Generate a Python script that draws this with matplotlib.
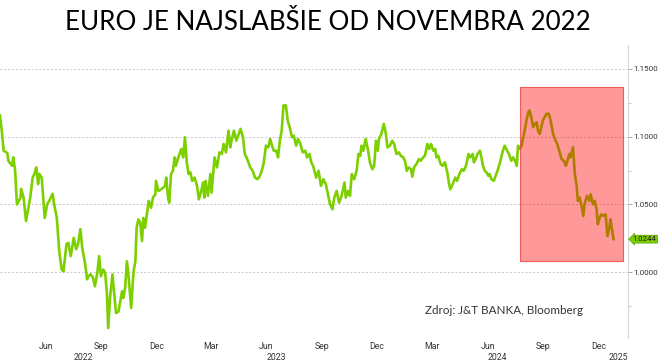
import matplotlib
matplotlib.use("Agg")
import matplotlib.pyplot as plt
import matplotlib.dates as mdates
import matplotlib.transforms as mtransforms
from matplotlib.patches import Rectangle
import pandas as pd

# EUR/USD
dates = [
    "2022-03-31", "2022-04-03", "2022-04-06", "2022-04-12", "2022-04-14", "2022-04-20", "2022-04-22", "2022-04-25",
    "2022-04-28", "2022-05-04", "2022-05-05", "2022-05-09", "2022-05-13", "2022-05-17", "2022-05-20", "2022-05-24",
    "2022-05-27", "2022-05-30", "2022-06-02", "2022-06-04", "2022-06-08", "2022-06-13", "2022-06-17", "2022-06-22",
    "2022-06-26", "2022-06-29", "2022-07-03", "2022-07-07", "2022-07-11", "2022-07-14", "2022-07-19", "2022-07-22",
    "2022-07-26", "2022-07-31", "2022-08-04", "2022-08-07", "2022-08-11", "2022-08-14", "2022-08-19", "2022-08-22",
    "2022-08-24", "2022-08-28", "2022-09-01", "2022-09-04", "2022-09-08", "2022-09-11", "2022-09-14", "2022-09-18",
    "2022-09-21", "2022-09-24", "2022-09-26", "2022-09-29", "2022-10-03", "2022-10-06", "2022-10-09", "2022-10-13",
    "2022-10-16", "2022-10-19", "2022-10-21", "2022-10-24", "2022-10-27", "2022-10-30", "2022-11-03", "2022-11-07",
    "2022-11-10", "2022-11-12", "2022-11-15", "2022-11-18", "2022-11-21", "2022-11-23", "2022-11-26", "2022-11-29",
    "2022-12-02", "2022-12-06", "2022-12-09", "2022-12-13", "2022-12-14", "2022-12-18", "2022-12-23", "2022-12-26",
    "2022-12-29", "2022-12-31", "2023-01-03", "2023-01-05", "2023-01-08", "2023-01-11", "2023-01-14", "2023-01-16",
    "2023-01-20", "2023-01-25", "2023-01-28", "2023-01-31", "2023-02-03", "2023-02-06", "2023-02-09", "2023-02-12",
    "2023-02-16", "2023-02-20", "2023-02-23", "2023-02-27", "2023-03-02", "2023-03-04", "2023-03-06", "2023-03-10",
    "2023-03-14", "2023-03-16", "2023-03-21", "2023-03-25", "2023-03-29", "2023-04-02", "2023-04-05", "2023-04-09",
    "2023-04-13", "2023-04-16", "2023-04-18", "2023-04-22", "2023-04-26", "2023-04-29", "2023-05-03", "2023-05-07",
    "2023-05-10", "2023-05-14", "2023-05-19", "2023-05-23", "2023-05-27", "2023-05-31", "2023-06-04", "2023-06-07",
    "2023-06-10", "2023-06-14", "2023-06-18", "2023-06-21", "2023-06-24", "2023-06-27", "2023-07-01", "2023-07-04",
    "2023-07-07", "2023-07-10", "2023-07-13", "2023-07-17", "2023-07-20", "2023-07-24", "2023-07-27", "2023-07-30",
    "2023-08-03", "2023-08-06", "2023-08-09", "2023-08-14", "2023-08-18", "2023-08-21", "2023-08-25", "2023-08-28",
    "2023-08-31", "2023-09-05", "2023-09-09", "2023-09-13", "2023-09-17", "2023-09-21", "2023-09-25", "2023-09-28",
    "2023-10-02", "2023-10-05", "2023-10-09", "2023-10-13", "2023-10-17", "2023-10-22", "2023-10-24", "2023-10-28",
    "2023-10-31", "2023-11-03", "2023-11-07", "2023-11-11", "2023-11-14", "2023-11-17", "2023-11-19", "2023-11-22",
    "2023-11-26", "2023-11-30", "2023-12-03", "2023-12-07", "2023-12-10", "2023-12-13", "2023-12-16", "2023-12-18",
    "2023-12-22", "2023-12-26", "2023-12-29", "2024-01-01", "2024-01-05", "2024-01-09", "2024-01-12", "2024-01-16",
    "2024-01-20", "2024-01-23", "2024-01-27", "2024-01-30", "2024-02-02", "2024-02-05", "2024-02-09", "2024-02-11",
    "2024-02-14", "2024-02-18", "2024-02-22", "2024-02-25", "2024-02-29", "2024-03-03", "2024-03-07", "2024-03-10",
    "2024-03-13", "2024-03-17", "2024-03-20", "2024-03-22", "2024-03-25", "2024-03-29", "2024-04-01", "2024-04-05",
    "2024-04-09", "2024-04-12", "2024-04-14", "2024-04-18", "2024-04-22", "2024-04-25", "2024-04-29", "2024-05-03",
    "2024-05-06", "2024-05-10", "2024-05-14", "2024-05-17", "2024-05-21", "2024-05-23", "2024-05-26", "2024-05-29",
    "2024-06-02", "2024-06-05", "2024-06-07", "2024-06-10", "2024-06-13", "2024-06-16", "2024-06-18", "2024-06-21",
    "2024-06-25", "2024-06-28", "2024-07-02", "2024-07-06", "2024-07-10", "2024-07-13", "2024-07-17", "2024-07-20",
    "2024-07-24", "2024-07-27", "2024-07-30", "2024-08-02", "2024-08-04", "2024-08-07", "2024-08-10", "2024-08-12",
    "2024-08-15", "2024-08-18", "2024-08-21", "2024-08-23", "2024-08-26", "2024-08-29", "2024-09-01", "2024-09-04",
    "2024-09-06", "2024-09-09", "2024-09-12", "2024-09-14", "2024-09-17", "2024-09-20", "2024-09-24", "2024-09-27",
    "2024-10-01", "2024-10-05", "2024-10-08", "2024-10-12", "2024-10-15", "2024-10-19", "2024-10-22", "2024-10-24",
    "2024-10-28", "2024-10-30", "2024-11-03", "2024-11-06", "2024-11-09", "2024-11-11", "2024-11-14", "2024-11-17",
    "2024-11-20", "2024-11-22", "2024-11-26", "2024-11-30", "2024-12-02", "2024-12-06", "2024-12-09", "2024-12-12",
    "2024-12-14", "2024-12-17", "2024-12-20", "2024-12-24", "2024-12-27", "2024-12-30", "2025-01-02", "2025-01-04",
    "2025-01-07", "2025-01-09",
]
eurusd = [
    1.1156, 1.1040, 1.0896, 1.0880, 1.0820, 1.0785, 1.0847, 1.0750,
    1.0500, 1.0550, 1.0615, 1.0550, 1.0378, 1.0476, 1.0550, 1.0698,
    1.0726, 1.0773, 1.0650, 1.0726, 1.0698, 1.0400, 1.0500, 1.0540,
    1.0578, 1.0490, 1.0400, 1.0156, 1.0020, 1.0007, 1.0207, 1.0217,
    1.0119, 1.0254, 1.0170, 1.0207, 1.0318, 1.0180, 1.0059, 0.9948,
    0.9970, 0.9985, 0.9958, 0.9896, 0.9995, 1.0119, 0.9970, 1.0020,
    0.9995, 0.9837, 0.9588, 0.9810, 0.9985, 0.9837, 0.9699, 0.9710,
    0.9785, 0.9860, 0.9810, 0.9884, 1.0081, 0.9958, 0.9736, 1.0007,
    1.0081, 1.0328, 1.0390, 1.0365, 1.0230, 1.0400, 1.0328, 1.0427,
    1.0526, 1.0476, 1.0550, 1.0575, 1.0674, 1.0600, 1.0612, 1.0624,
    1.0637, 1.0698, 1.0550, 1.0513, 1.0724, 1.0748, 1.0847, 1.0785,
    1.0847, 1.0909, 1.0847, 1.0995, 1.0810, 1.0724, 1.0736, 1.0674,
    1.0698, 1.0637, 1.0538, 1.0600, 1.0662, 1.0550, 1.0674, 1.0563,
    1.0724, 1.0587, 1.0847, 1.0773, 1.0884, 1.0872, 1.0946, 1.0884,
    1.1044, 1.0921, 1.0970, 1.1044, 1.0970, 1.1007, 1.1057, 1.0995,
    1.0872, 1.0835, 1.0773, 1.0748, 1.0698, 1.0686, 1.0711, 1.0748,
    1.0798, 1.0933, 1.0921, 1.0983, 1.0933, 1.0896, 1.0896, 1.0847,
    1.0970, 1.1044, 1.1230, 1.1230, 1.1119, 1.1057, 1.0995, 1.1007,
    1.0933, 1.0983, 1.0958, 1.0884, 1.0896, 1.0847, 1.0872, 1.0810,
    1.0785, 1.0698, 1.0748, 1.0637, 1.0686, 1.0650, 1.0563, 1.0501,
    1.0464, 1.0550, 1.0600, 1.0513, 1.0563, 1.0662, 1.0550, 1.0600,
    1.0563, 1.0724, 1.0686, 1.0748, 1.0872, 1.0859, 1.0933, 1.0896,
    1.0983, 1.0896, 1.0810, 1.0760, 1.0785, 1.0970, 1.0896, 1.0983,
    1.1020, 1.1094, 1.1032, 1.0921, 1.0933, 1.0970, 1.0946, 1.0872,
    1.0884, 1.0859, 1.0847, 1.0822, 1.0748, 1.0773, 1.0760, 1.0704,
    1.0773, 1.0798, 1.0835, 1.0822, 1.0847, 1.0859, 1.0946, 1.0909,
    1.0946, 1.0896, 1.0909, 1.0847, 1.0859, 1.0798, 1.0785, 1.0810,
    1.0736, 1.0650, 1.0612, 1.0650, 1.0698, 1.0674, 1.0724, 1.0760,
    1.0748, 1.0785, 1.0872, 1.0847, 1.0872, 1.0810, 1.0835, 1.0872,
    1.0896, 1.0835, 1.0785, 1.0748, 1.0736, 1.0711, 1.0724, 1.0686,
    1.0674, 1.0711, 1.0760, 1.0822, 1.0896, 1.0933, 1.0896, 1.0872,
    1.0822, 1.0847, 1.0822, 1.0785, 1.0933, 1.0909, 1.0933, 1.0983,
    1.1044, 1.1119, 1.1180, 1.1193, 1.1143, 1.1069, 1.1094, 1.1106,
    1.1044, 1.1020, 1.1081, 1.1119, 1.1143, 1.1168, 1.1168, 1.1119,
    1.1020, 1.0970, 1.0946, 1.0884, 1.0835, 1.0822, 1.0785, 1.0810,
    1.0872, 1.0847, 1.0921, 1.0724, 1.0637, 1.0526, 1.0550, 1.0489,
    1.0415, 1.0501, 1.0563, 1.0526, 1.0575, 1.0501, 1.0526, 1.0464,
    1.0353, 1.0400, 1.0427, 1.0415, 1.0427, 1.0267, 1.0328, 1.0390,
    1.0304, 1.0244,
]

title = "EURO JE NAJSLABŠIE OD NOVEMBRA 2022"
source = "Zdroj: J&T BANKA, Bloomberg"
x_range = ["2022-03-31", "2025-02-02"]
y_range = [0.9515, 1.1676]
y_major = [1.00, 1.05, 1.10, 1.15]
y_minor = [0.975, 1.025, 1.075, 1.125]
highlight_dates = ["2024-08-07", "2025-01-24"]
highlight_vals = [1.0083, 1.1369]

green = "#7dd000"
axis_font = "Roboto"

d = pd.to_datetime(dates)
x0, x1 = pd.to_datetime(x_range)

fig = plt.figure(figsize=(6.61, 3.64), dpi=100)
ax = fig.add_axes([0, 0.0714, 0.9501, 0.8051])

ax.plot(d, eurusd, color=green, lw=1.9, solid_joinstyle="round", zorder=3)

h0, h1 = mdates.date2num(pd.to_datetime(highlight_dates))
ax.add_patch(Rectangle((h0, highlight_vals[0]), h1 - h0, highlight_vals[1] - highlight_vals[0],
                       facecolor=(1, 0, 0, 0.4), edgecolor=(0.93, 0.25, 0.25, 0.8), lw=0.8, zorder=4))

ax.set_xlim(x0, x1)
ax.set_ylim(*y_range)

# right hand price axis
ax.yaxis.tick_right()
ax.set_yticks(y_major)
ax.set_yticks(y_minor, minor=True)
ax.set_yticklabels([f"{v:.4f}" for v in y_major], family=axis_font)
ax.tick_params(axis="y", which="major", length=3, width=0.6, color="#9a9a9a",
               labelsize=5.8, labelcolor="#333333", pad=0.5)
ax.tick_params(axis="y", which="minor", length=2, width=0.6, color="#bdbdbd")
for s in ["left", "top", "bottom"]:
    ax.spines[s].set_visible(False)
ax.spines["right"].set_color("#d6d6d6")
ax.spines["right"].set_linewidth(0.8)
ax.grid(axis="y", which="major", color="#c8c8c8", linestyle=(0, (2, 2)), lw=0.7)

# months (labels sit mid-month), years centred under visible part
ticks = [t + pd.Timedelta(days=14) for t in pd.date_range("2022-03-01", "2025-01-31", freq="MS")
         if t.month in (3, 6, 9, 12) and x0 <= t + pd.Timedelta(days=14) <= x1]
ax.set_xticks(ticks)
ax.set_xticklabels([t.strftime("%b") for t in ticks], family=axis_font)
ax.tick_params(axis="x", length=0, labelsize=6.3, labelcolor="#333333", pad=3)

trans = mtransforms.blended_transform_factory(ax.transData, ax.transAxes)
for yr in range(x0.year, x1.year + 1):
    a = max(x0, pd.Timestamp(f"{yr}-01-01"))
    b = min(x1, pd.Timestamp(f"{yr}-12-31"))
    mid = a + (b - a) / 2
    ax.text(mid, -0.068, str(yr), transform=trans, ha="center", va="center",
            fontsize=6.3, color="#333333", family=axis_font)

# last price tag
ax.annotate(f"{eurusd[-1]:.4f}", xy=(1, eurusd[-1]), xycoords=("axes fraction", "data"),
            xytext=(3.5, 0), textcoords="offset points", ha="left", va="center",
            fontsize=5.6, color="#1a1a1a", family=axis_font,
            bbox=dict(boxstyle="larrow,pad=0.12", fc=green, ec="#5c9c00", lw=0.5),
            annotation_clip=False)

fig.text(0.496, 1 - 23 / 364, title, ha="center", va="center", fontsize=18.7,
         family="Lato", color="black")
fig.text(425 / 661, 1 - 310 / 364, source, ha="left", va="center", fontsize=8.4,
         family="Lato", color="#333333")

fig.savefig("out.png", dpi=100)
